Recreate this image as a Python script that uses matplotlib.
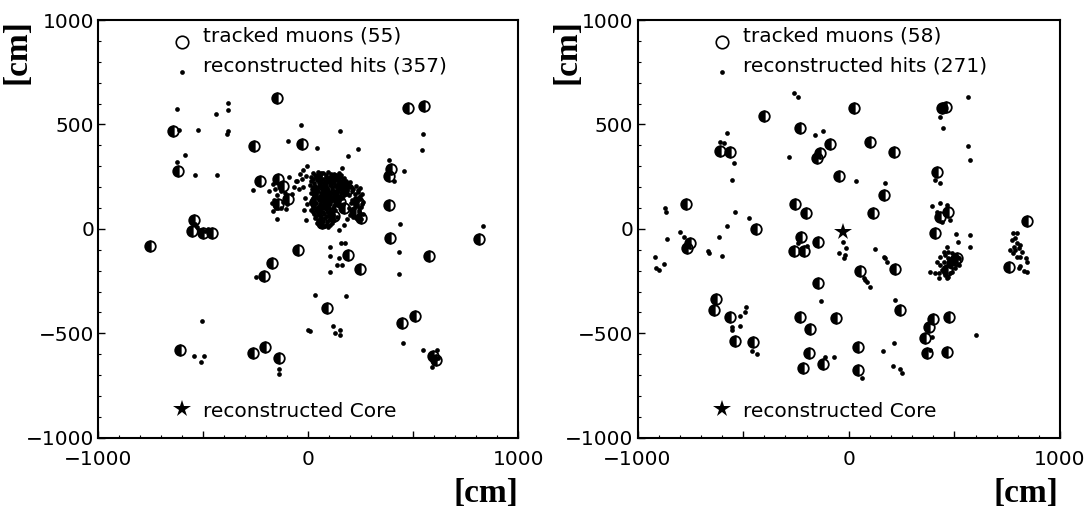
import numpy as np
import matplotlib
matplotlib.use("Agg")
import matplotlib.pyplot as plt
from matplotlib.ticker import MultipleLocator
from matplotlib.markers import MarkerStyle

plt.rcParams['font.family'] = ['DejaVu Sans']

# ---------------- data (cm) ----------------
left_muon_x = [-148, -646, -257, -31, -619, -230, -143, -119, -95, -143, 64, -544, -555, -503, -460,
               -755, -50, -174, -212, -611, -265, -206, -138, 475, 550, 393, 385, 383, 389, 575,
               814, 188, 245, 190, 90, 445, 508, 595, 610,
               60, 120, 160, 90, 40, 140, 100, 60, 120, 30, 170, 238, 220, 250, 80, 150]
left_muon_y = [626, 470, 398, 406, 275, 230, 238, 206, 145, 118, 30, 44, -11, -18, -18,
               -80, -99, -162, -226, -579, -595, -566, -619, 578, 586, 287, 255, 115, -45, -131,
               -50, -127, -190, 190, -380, -451, -419, -611, -630,
               250, 240, 210, 200, 170, 160, 120, 90, 60, 130, 100, 130, 80, 50, 150, 130]

left_hits = [
    (-616, 475), (-627, 575), (-440, 550), (-381, 603), (-384, 570), (-381, 470), (-389, 454),
    (-524, 474), (-98, 422), (-36, 499), (40, 386), (151, 467), (190, 350), (238, 382),
    (-587, 355), (-624, 318), (-540, 257), (-436, 257), (-262, 187), (-148, 49), (-167, 86),
    (545, 454), (540, 379), (384, 331), (454, 278), (406, 230), (437, 22), (434, -111),
    (434, -214), (833, 13),
    (-170, 215), (-160, 190), (-130, 180), (-110, 170), (-150, 160), (-165, 140), (-120, 130),
    (-100, 120), (-80, 165), (-70, 200), (-60, 230), (-130, 100), (-155, 100), (-175, 125),
    (-105, 95), (-185, 180), (-90, 250),
    (-24, 283), (-31, 238), (-55, 230), (-24, 198), (-16, 150), (-40, 262), (-10, 255),
    (-45, 190), (-5, 120), (-20, 90),
    # dense central cluster
    (20, 268), (45, 272), (70, 266), (95, 270), (120, 265), (145, 268),
    (30, 259), (57, 261), (83, 258), (108, 262), (133, 257), (158, 260),
    (12, 250), (35, 248), (58, 252), (82, 246), (106, 251), (130, 247), (152, 250), (172, 245),
    (24, 239), (47, 241), (70, 238), (94, 242), (118, 239), (142, 241), (164, 237),
    (15, 228), (40, 232), (62, 226), (88, 231), (110, 227), (134, 232), (158, 226), (180, 230),
    (27, 219), (51, 221), (75, 218), (99, 222), (122, 218), (146, 220), (169, 219), (190, 221),
    (10, 210), (33, 206), (55, 212), (78, 208), (102, 211), (125, 205), (148, 209), (170, 212), (188, 206),
    (22, 199), (45, 198), (67, 201), (90, 197), (114, 200), (137, 198), (159, 201), (180, 197),
    (18, 190), (42, 186), (65, 192), (90, 188), (113, 191), (137, 186), (160, 190), (182, 185),
    (25, 179), (48, 181), (72, 178), (96, 181), (120, 179), (143, 180), (168, 178),
    (12, 170), (36, 168), (60, 172), (84, 166), (108, 170), (130, 168), (155, 172), (178, 168),
    (30, 160), (55, 158), (79, 161), (103, 159), (128, 160), (150, 158), (172, 160),
    (20, 150), (44, 146), (68, 152), (92, 148), (116, 151), (140, 146), (162, 150),
    (25, 140), (50, 138), (74, 141), (98, 139), (122, 140), (145, 137),
    (15, 130), (38, 126), (62, 132), (86, 128), (110, 131), (134, 127),
    (28, 120), (55, 118), (80, 121), (105, 119), (128, 117),
    (20, 110), (45, 106), (70, 112), (95, 108), (120, 111),
    (22, 100), (48, 99), (72, 101), (98, 98), (118, 100),
    (12, 90), (35, 92), (58, 88), (82, 93), (106, 88), (128, 92),
    (20, 80), (44, 79), (68, 81), (92, 79), (112, 78),
    (25, 70), (50, 66), (75, 72), (100, 68), (118, 64),
    (38, 60), (62, 58), (88, 61), (110, 57),
    (30, 50), (55, 48), (80, 52), (105, 46), (135, 55),
    (48, 40), (72, 38), (98, 41), (122, 40),
    (40, 30), (65, 26), (90, 32), (115, 28),
    (60, 20), (85, 20), (105, 18), (55, 12), (95, 8), (75, 15),
    (200, 200), (225, 205), (245, 195), (212, 192), (238, 186), (210, 180), (235, 175),
    (255, 165), (222, 165), (246, 158), (195, 160), (220, 150), (245, 145), (208, 140),
    (232, 132), (262, 130), (205, 125), (255, 118), (230, 115), (250, 105), (218, 100),
    (195, 100), (240, 92), (215, 85), (240, 80), (210, 75), (260, 70), (200, 65),
    (235, 62), (213, 55), (225, 50), (250, 45), (185, 45),
    (-5, 300), (160, 290), (200, 225), (145, -5), (170, 20), (-10, 40),
    # outer hits
    (-508, -440), (-544, -607), (-512, -638), (-497, -611), (-249, -232), (-138, -672),
    (-138, -696), (0, -483), (-530, 10), (-520, -5), (-540, 25), (-490, -10), (-480, 0),
    (103, -88), (103, -131), (154, -70), (175, -70), (148, -138), (138, -174), (159, -174),
    (103, -208),
    (32, -315), (179, -320), (8, -491), (118, -467), (151, -483), (127, -500), (150, -510),
    (450, -547), (548, -579), (611, -579), (587, -660), (619, -619), (600, -640),
]
left_core = (100, 160)

right_muon_x = [-400, -233, -91, -138, -148, -48, -608, -564, -769, -253, -201, -226, -147, -261, -211,
                -438, -750, -766, -146, -233, -182, -62, -190, -217, -124, -627, -637, -564, -537, -453,
                23, 102, 212, 165, 115, 220, 51, 244, 46, 46, 401, 476, 378, 362, 370,
                465, 472, 433, 409, 504, 465, 844, 757, 441, 462, 417, 512, 488]
right_muon_y = [540, 481, 406, 365, 338, 255, 374, 369, 119, 119, 77, -40, -62, -104, -104,
                -3, -66, -93, -261, -424, -480, -425, -596, -668, -647, -337, -389, -421, -536, -540,
                580, 417, 369, 160, 78, -192, -200, -389, -564, -676, -433, -421, -471, -524, -593,
                -588, 82, 58, -21, -149, -197, 39, -184, 577, 585, 274, -141, -165]

right_hits = [
    (-261, 652), (-242, 633), (-159, 449), (-124, 468), (-282, 345), (34, 229), (-577, 460),
    (-608, 417), (-592, 410), (-545, 317), (-553, 234), (-869, 98), (-865, 79), (-537, 79),
    (-470, 53), (-577, 14), (-616, -40), (-861, -49), (-798, -14), (564, 630), (564, 397),
    (572, 330), (433, 537), (446, 481), (409, 234), (433, 218), (173, 218),
    (-600, -129), (-664, -104), (-660, -117), (-779, -38), (-919, -136), (-911, -189),
    (-900, -197), (-876, -168), (-48, -117), (-17, -125), (-25, -62), (-12, -93), (-21, -141),
    (-132, -345), (-111, -612), (-69, -612), (-553, -469), (-553, -485), (-514, -416),
    (-490, -397), (-485, -376), (-514, -464), (-458, -585), (-432, -601), (125, -98),
    (165, -133), (181, -157), (173, -141), (70, -237), (86, -253), (102, -277), (78, -245),
    (220, -341), (62, -716), (215, -548), (160, -583), (209, -655), (244, -671), (252, -692),
    (394, -516), (386, -580), (604, -508),
    (394, 109), (433, 122), (465, 114), (417, 82), (480, 42), (441, 34), (509, -25),
    (575, -29), (517, -61), (572, -85), (465, -88),
    (433, -133), (457, -125), (472, -141), (488, -117), (449, -157), (433, -173), (480, -173),
    (496, -165), (441, -197), (425, -213), (457, -221), (472, -229), (488, -205), (504, -189),
    (520, -173), (386, -205), (409, -213), (425, -237), (465, -237), (496, -133), (520, -141),
    (449, -109), (472, -109), (417, -157), (480, -213),
    (777, -18), (796, -18), (772, -53), (788, -45), (796, -69), (780, -85), (765, -101),
    (804, -93), (820, -109), (777, -117), (812, -77), (788, -101), (796, -133), (812, -133),
    (840, -141), (844, -157), (812, -178), (828, -202), (804, -189), (844, -205),
    (-240, -70), (-200, -80),
]
right_core = (-27, -17)

panels = [
    dict(mx=left_muon_x, my=left_muon_y, hits=left_hits, core=left_core, n_mu=55, n_hit=357,
         rect=[98.3 / 1090, (514 - 437.7) / 514, 420 / 1090, 417.7 / 514], ylab_x=17, xlab_r=518),
    dict(mx=right_muon_x, my=right_muon_y, hits=right_hits, core=right_core, n_mu=58, n_hit=271,
         rect=[637.5 / 1090, (514 - 437.7) / 514, 422.5 / 1090, 417.7 / 514], ylab_x=567, xlab_r=1058),
]

fig = plt.figure(figsize=(10.9, 5.14), dpi=100)
FS = 14.5
half = MarkerStyle('o', fillstyle='left')

for p in panels:
    ax = fig.add_axes(p['rect'])
    ax.set_xlim(-1000, 1000)
    ax.set_ylim(-1000, 1000)
    for s in ax.spines.values():
        s.set_linewidth(1.5)
    ax.set_xticks([-1000, -500, 0, 500, 1000])
    ax.set_xticklabels(['\u22121000', '', '0', '', '1000'])
    ax.set_yticks([-1000, -500, 0, 500, 1000])
    ax.set_yticklabels(['\u22121000', '\u2212500', '0', '500', '1000'])
    ax.xaxis.set_minor_locator(MultipleLocator(100))
    ax.yaxis.set_minor_locator(MultipleLocator(100))
    ax.tick_params(which='both', direction='in', top=False, right=False)
    ax.tick_params(which='major', length=5, width=1.0, labelsize=FS)
    ax.tick_params(which='minor', length=2.5, width=0.8)
    ax.tick_params(axis='x', pad=9)
    ax.tick_params(axis='y', pad=3)

    # tracked muons
    ax.plot(p['mx'], p['my'], linestyle='none', marker=half, ms=7.6, mew=1.3,
            mec='black', mfc='black', mfcalt='none', zorder=2)
    # reconstructed hits
    hx = [h[0] for h in p['hits']]
    hy = [h[1] for h in p['hits']]
    ax.plot(hx, hy, linestyle='none', marker='o', ms=3.4, mew=0, color='black', zorder=3)
    # core
    ax.plot([p['core'][0]], [p['core'][1]], linestyle='none', marker='*', ms=13,
            color='black', mew=0, zorder=4)

    # legend-like annotations
    T = ax.transAxes
    ax.plot([0.199], [0.948], 'o', mfc='none', mec='black', ms=9, mew=1.2, transform=T, clip_on=False)
    ax.text(0.25, 0.948, 'tracked muons (%d)' % p['n_mu'], transform=T, va='baseline', fontsize=FS)
    ax.plot([0.199], [0.876], 'o', color='black', ms=3.4, mew=0, transform=T, clip_on=False)
    ax.text(0.25, 0.876, 'reconstructed hits (%d)' % p['n_hit'], transform=T, va='baseline', fontsize=FS)
    ax.plot([0.199], [0.0687], '*', color='black', ms=13, mew=0, transform=T, clip_on=False)
    ax.text(0.25, 0.050, 'reconstructed Core', transform=T, va='baseline', fontsize=FS)

    fig.text(p['ylab_x'] / 1090, 1 - 19 / 514, '[cm]', rotation=90, va='top', ha='center',
             family='Liberation Serif', weight='bold', fontsize=24)
    fig.text(p['xlab_r'] / 1090, 1 - 493 / 514, '[cm]', va='center', ha='right',
             family='Liberation Serif', weight='bold', fontsize=24)

fig.savefig('out.png', dpi=100)
